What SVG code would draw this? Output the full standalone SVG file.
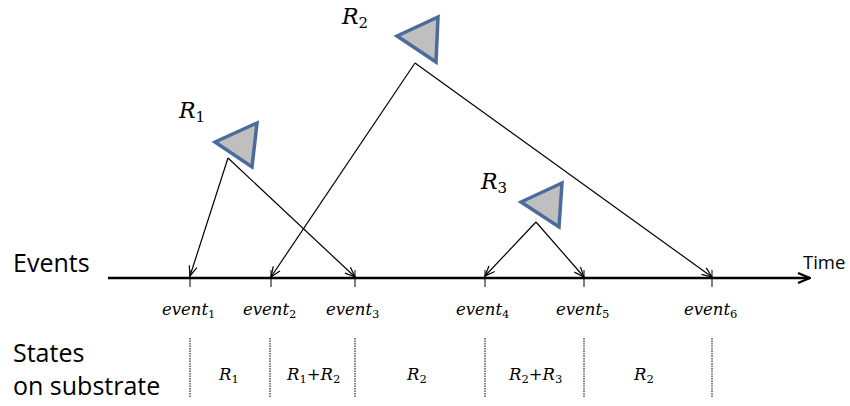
<svg xmlns="http://www.w3.org/2000/svg" width="850" height="406" viewBox="0 0 850 406">
<style>
.lbl{font-family:"Open Sans","Liberation Sans",sans-serif;fill:#000}
.m{font-family:"DejaVu Serif","Liberation Serif",serif;font-style:italic;fill:#000}
.s{font-style:normal}
.tri{fill:#bfbfbf;stroke:#4a6b9c;stroke-width:3.5;stroke-linejoin:miter}
.ln{stroke:#000;stroke-width:1.2;fill:none}
.dot{stroke:#000;stroke-width:1;stroke-dasharray:1.5 1;fill:none}
</style>
<defs>
<marker id="ah" viewBox="0 0 12 10" refX="11" refY="5" markerWidth="12" markerHeight="10" markerUnits="userSpaceOnUse" orient="auto">
<path d="M1,1 L11,5 L1,9" fill="none" stroke="#000" stroke-width="1.2"/>
</marker>
<marker id="ahT" viewBox="0 0 14 12" refX="13" refY="6" markerWidth="14" markerHeight="12" markerUnits="userSpaceOnUse" orient="auto">
<path d="M1,1 L13,6 L1,11" fill="none" stroke="#000" stroke-width="2.2"/>
</marker>
</defs>
<g id="labels">
<text class="lbl" x="13" y="272" font-size="25">Events</text>
<text class="lbl" x="803" y="269" font-size="18.5">Time</text>
<text class="lbl" x="13" y="362" font-size="25">States</text>
<text class="lbl" x="13" y="395" font-size="25">on substrate</text>
</g>
<g id="timeline">
<line x1="108" y1="278" x2="810" y2="278" stroke="#000" stroke-width="2.5" marker-end="url(#ahT)"/>
<g stroke="#000" stroke-width="1">
<line x1="190" y1="270" x2="190" y2="287"/>
<line x1="271" y1="270" x2="271" y2="287"/>
<line x1="355" y1="270" x2="355" y2="287"/>
<line x1="485" y1="270" x2="485" y2="287"/>
<line x1="584" y1="270" x2="584" y2="287"/>
<line x1="712" y1="270" x2="712" y2="287"/>
</g>
</g>
<g id="event-labels" font-size="16.5">
<text class="m" x="162" y="315">event<tspan class="s" font-size="11.5" dy="3">1</tspan></text>
<text class="m" x="243" y="315">event<tspan class="s" font-size="11.5" dy="3">2</tspan></text>
<text class="m" x="326" y="315">event<tspan class="s" font-size="11.5" dy="3">3</tspan></text>
<text class="m" x="456" y="315">event<tspan class="s" font-size="11.5" dy="3">4</tspan></text>
<text class="m" x="556" y="315">event<tspan class="s" font-size="11.5" dy="3">5</tspan></text>
<text class="m" x="684" y="315">event<tspan class="s" font-size="11.5" dy="3">6</tspan></text>
</g>
<g id="R1">
<polygon class="tri" points="215,142 257,123 252,167"/>
<text class="m" x="179" y="118" font-size="22">R<tspan class="s" font-size="15" dy="4">1</tspan></text>
</g>
<g id="R2">
<polygon class="tri" points="397,36 438,17 436,62"/>
<text class="m" x="342" y="24" font-size="22">R<tspan class="s" font-size="15" dy="4">2</tspan></text>
</g>
<g id="R3">
<polygon class="tri" points="521,202 562,183 559,227"/>
<text class="m" x="481" y="189" font-size="22">R<tspan class="s" font-size="15" dy="4">3</tspan></text>
</g>
<g id="connectors">
<line class="ln" x1="228" y1="158" x2="190" y2="276" marker-end="url(#ah)"/>
<line class="ln" x1="228" y1="158" x2="355" y2="277" marker-end="url(#ah)"/>
<line class="ln" x1="415" y1="63" x2="271" y2="277" marker-end="url(#ah)"/>
<line class="ln" x1="415" y1="63" x2="712" y2="277" marker-end="url(#ah)"/>
<line class="ln" x1="536" y1="222" x2="485" y2="276" marker-end="url(#ah)"/>
<line class="ln" x1="536" y1="222" x2="584" y2="277" marker-end="url(#ah)"/>
</g>
<g id="states">
<line class="dot" x1="190" y1="338" x2="190" y2="398"/>
<line class="dot" x1="270" y1="338" x2="270" y2="398"/>
<line class="dot" x1="355" y1="338" x2="355" y2="398"/>
<line class="dot" x1="485" y1="338" x2="485" y2="398"/>
<line class="dot" x1="584" y1="338" x2="584" y2="398"/>
<line class="dot" x1="712" y1="338" x2="712" y2="398"/>
<text class="m" x="219" y="380" font-size="16.5">R<tspan class="s" font-size="11.5" dy="3">1</tspan></text>
<text class="m" x="287" y="380" font-size="16.5">R<tspan class="s" font-size="11.5" dy="3">1</tspan><tspan class="s" dy="-3">+</tspan><tspan>R</tspan><tspan class="s" font-size="11.5" dy="3">2</tspan></text>
<text class="m" x="407" y="380" font-size="16.5">R<tspan class="s" font-size="11.5" dy="3">2</tspan></text>
<text class="m" x="509" y="380" font-size="16.5">R<tspan class="s" font-size="11.5" dy="3">2</tspan><tspan class="s" dy="-3">+</tspan><tspan>R</tspan><tspan class="s" font-size="11.5" dy="3">3</tspan></text>
<text class="m" x="634" y="380" font-size="16.5">R<tspan class="s" font-size="11.5" dy="3">2</tspan></text>
</g>
</svg>
